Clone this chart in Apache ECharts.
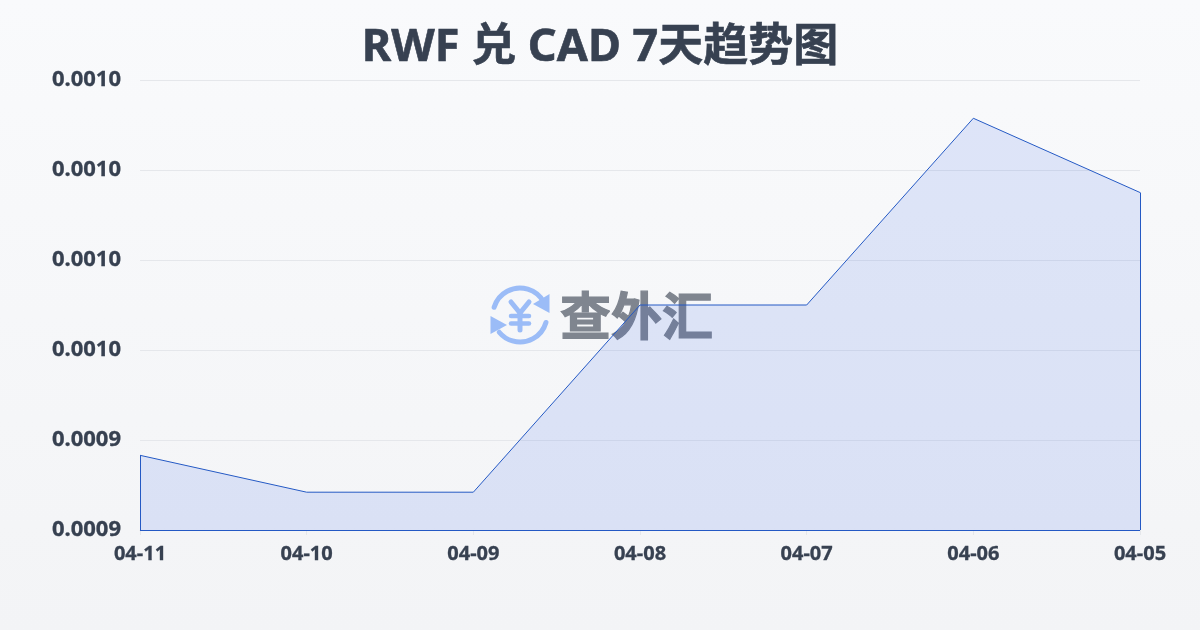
<!DOCTYPE html>
<html><head><meta charset="utf-8">
<style>html,body{margin:0;padding:0;width:1200px;height:630px;overflow:hidden;background:linear-gradient(180deg,#f9fafc,#f3f4f6)}#c{width:1200px;height:630px}</style>
<script src="https://cdn.jsdelivr.net/npm/echarts@6/dist/echarts.min.js"></script>
</head><body><div id="c"></div>
<script>
const titleText = 'RWF 兑 CAD 7天趋势图';
const categories = ['04-11','04-10','04-09','04-08','04-07','04-06','04-05'];
const values = [0.0009366,0.0009284,0.0009284,0.00097,0.00097,0.0010115,0.000995];
const axisMin = 0.00092, axisMax = 0.00102, axisStep = 0.00002;
const FONT = '"Noto Sans","Noto Sans CJK SC",sans-serif';
const LINE = '#2459c4';
const ICON = '#9bbcf7';
const INK = '#374151';
const chart = echarts.init(document.getElementById('c'), null, {renderer:'canvas'});
const cx = 520, cy = 315, R = 27;
const stroke = (w)=>({stroke:ICON,lineWidth:w,lineCap:'round',fill:null});
chart.setOption({
  animation:false,
  backgroundColor:'transparent',
  title:{text:titleText,left:'center',top:21,textStyle:{fontFamily:FONT,fontSize:45,fontWeight:'bold',color:INK,textBorderColor:INK,textBorderWidth:0.6}},
  grid:{left:140,right:60,top:80,bottom:100,containLabel:false},
  xAxis:{type:'category',boundaryGap:false,data:categories,
    axisLine:{show:true,lineStyle:{color:'#e5e7eb'}},
    axisTick:{show:true,length:5,lineStyle:{color:'#e5e7eb'}},
    axisLabel:{fontFamily:FONT,fontSize:20,fontWeight:'bold',color:INK,textBorderColor:INK,textBorderWidth:0.3,margin:14,hideOverlap:false,showMinLabel:true,showMaxLabel:true},
    splitLine:{show:false}},
  yAxis:{type:'value',min:axisMin,max:axisMax,interval:axisStep,
    axisLine:{show:false},axisTick:{show:false},
    axisLabel:{fontFamily:FONT,fontSize:22,fontWeight:'bold',color:INK,textBorderColor:INK,textBorderWidth:0.3,margin:19,formatter:v=>v.toFixed(4)},
    splitLine:{show:true,lineStyle:{color:'#e5e7eb',width:1}}},
  graphic:{elements:[{type:'group',z:1,silent:true,children:[
    {type:'arc',shape:{cx,cy,r:R,startAngle:-2.85,endAngle:-0.5},style:stroke(5)},
    {type:'arc',shape:{cx,cy,r:R,startAngle:0.28,endAngle:2.45},style:stroke(5)},
    {type:'polygon',shape:{points:[[549.5,294],[549.5,313],[533,304]]},style:{fill:ICON}},
    {type:'polygon',shape:{points:[[490.5,316],[490.5,334],[507,325]]},style:{fill:ICON}},
    {type:'line',shape:{x1:511,y1:302,x2:520,y2:313},style:stroke(5)},
    {type:'line',shape:{x1:529,y1:302,x2:520,y2:313},style:stroke(5)},
    {type:'line',shape:{x1:511,y1:316,x2:529,y2:316},style:stroke(4.5)},
    {type:'line',shape:{x1:511,y1:323.5,x2:529,y2:323.5},style:stroke(4.5)},
    {type:'line',shape:{x1:520,y1:313,x2:520,y2:330},style:stroke(5)},
    {type:'text',style:{text:'查外汇',x:560,y:315.5,align:'left',verticalAlign:'middle',fontFamily:'"Noto Sans CJK SC",sans-serif',fontSize:51,fontWeight:'bold',fill:'#7f858f',stroke:'#7f858f',lineWidth:1.2}}
  ]}]},
  series:[{type:'line',z:5,data:values,symbol:'none',smooth:false,
    lineStyle:{color:LINE,width:1},
    areaStyle:{color:'rgba(50,95,228,0.185)'},
    markLine:{silent:true,symbol:'none',label:{show:false},z:6,animation:false,
      lineStyle:{color:LINE,width:1,type:'solid'},
      data:[
        [{xAxis:categories[0],yAxis:axisMin},{xAxis:categories[0],yAxis:values[0]}],
        [{xAxis:categories[6],yAxis:axisMin},{xAxis:categories[6],yAxis:values[6]}],
        [{xAxis:categories[0],yAxis:axisMin},{xAxis:categories[6],yAxis:axisMin}]
      ]}
  }]
});
</script></body></html>
